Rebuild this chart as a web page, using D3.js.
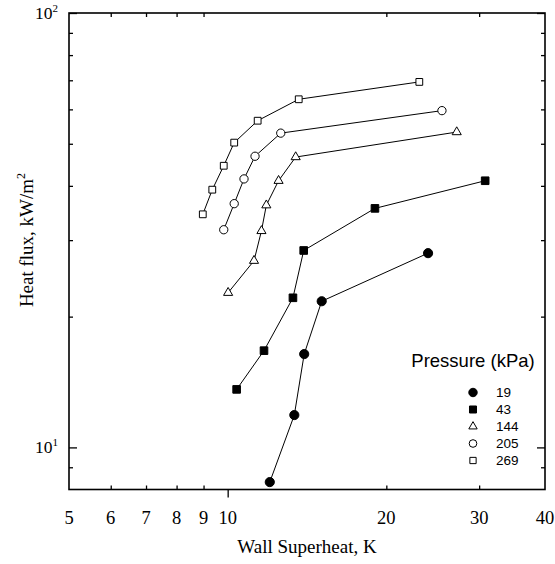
<!DOCTYPE html>
<html>
<head>
<meta charset="utf-8">
<script src="https://cdn.jsdelivr.net/npm/d3@7"></script>
<style>
  body { margin: 0; background: #fff; }
  svg { display: block; }
</style>
</head>
<body>
<svg id="chart" width="555" height="564"></svg>
<script>
// ---------- data ----------
const seriesNames = ["19", "43", "144", "205", "269"];   // pressure, kPa
const x19  = [12.02, 13.38, 13.97, 15.08, 24.0];
const y19  = [8.32, 11.87, 16.4, 21.7, 28.0];
const x43  = [10.40, 11.72, 13.30, 13.94, 19.03, 30.8];
const y43  = [13.6, 16.7, 22.1, 28.4, 35.5, 41.1];
const x144 = [10.02, 11.22, 11.59, 11.84, 12.49, 13.46, 27.2];
const y144 = [22.7, 26.9, 31.5, 36.1, 41.1, 46.6, 53.2];
const x205 = [9.83, 10.29, 10.74, 11.27, 12.61, 25.5];
const y205 = [31.7, 36.4, 41.5, 46.8, 52.9, 59.6];
const x269 = [8.97, 9.35, 9.83, 10.29, 11.40, 13.64, 23.1];
const y269 = [34.4, 39.2, 44.5, 50.3, 56.5, 63.3, 69.4];

const xTickLabels = [5, 6, 7, 8, 9, 10, 20, 30, 40];
const xMinorTicks = [6, 7, 8, 9, 20, 30];
const xMajorTicks = [10];
const yMajorTicks = [10, 100];
const yMinorTicks = [9, 20, 30, 40, 50, 60, 70, 80, 90];

const xTitle = "Wall Superheat, K";
const legendTitle = "Pressure (kPa)";

// ---------- layout ----------
const svg = d3.select("#chart");
const L = 69, R = 545, T = 13, B = 489.5;
const x = d3.scaleLog().domain([5, 40]).range([L, R]);
const y = d3.scaleLog().domain([8, 100]).range([B, T]);

const serif = "'Liberation Serif', 'Times New Roman', serif";
const sans = "'Liberation Sans', Arial, sans-serif";

const series = [
  {name: seriesNames[0], xs: x19,  ys: y19,  sym: d3.symbolCircle,   fill: "#000", size: 66},
  {name: seriesNames[1], xs: x43,  ys: y43,  sym: d3.symbolSquare,   fill: "#000", size: 58},
  {name: seriesNames[2], xs: x144, ys: y144, sym: d3.symbolTriangle, fill: "#fff", size: 36},
  {name: seriesNames[3], xs: x205, ys: y205, sym: d3.symbolCircle,   fill: "#fff", size: 54},
  {name: seriesNames[4], xs: x269, ys: y269, sym: d3.symbolSquare,   fill: "#fff", size: 46}
];

// ---------- axes / ticks ----------
svg.append("g").attr("transform", `translate(0,${B})`)
  .call(d3.axisBottom(x).tickValues(xMinorTicks).tickSize(-4).tickFormat(""))
  .call(g => g.select(".domain").remove());
svg.append("g").attr("transform", `translate(0,${B})`)
  .call(d3.axisBottom(x).tickValues(xMajorTicks).tickSize(8).tickFormat(""))
  .call(g => g.select(".domain").remove());
svg.append("g").attr("transform", `translate(0,${T})`)
  .call(d3.axisTop(x).tickValues(xMinorTicks).tickSize(-4).tickFormat(""))
  .call(g => g.select(".domain").remove());
svg.append("g").attr("transform", `translate(${L},0)`)
  .call(d3.axisLeft(y).tickValues(yMinorTicks).tickSize(-4).tickFormat(""))
  .call(g => g.select(".domain").remove());
svg.append("g").attr("transform", `translate(${L},0)`)
  .call(d3.axisLeft(y).tickValues(yMajorTicks).tickSize(-8).tickFormat(""))
  .call(g => g.select(".domain").remove());
svg.append("g").attr("transform", `translate(${R},0)`)
  .call(d3.axisRight(y).tickValues(yMinorTicks).tickSize(-4).tickFormat(""))
  .call(g => g.select(".domain").remove());
svg.append("g").attr("transform", `translate(${R},0)`)
  .call(d3.axisRight(y).tickValues(yMajorTicks).tickSize(-8).tickFormat(""))
  .call(g => g.select(".domain").remove());

svg.selectAll(".tick line").attr("stroke", "#000").attr("stroke-width", 1.3);

// frame
svg.append("rect").attr("x", L).attr("y", T).attr("width", R - L).attr("height", B - T)
  .attr("fill", "none").attr("stroke", "#000").attr("stroke-width", 1.6);

// x tick labels
svg.append("g").selectAll("text").data(xTickLabels).join("text")
  .attr("x", d => x(d)).attr("y", 524)
  .attr("text-anchor", "middle")
  .attr("font-family", serif).attr("font-size", 18.5)
  .text(d => d);

// y tick labels 10^1, 10^2
const yl = svg.append("g").selectAll("text").data(yMajorTicks).join("text")
  .attr("x", 58).attr("y", d => y(d) + 6)
  .attr("text-anchor", "end")
  .attr("font-family", serif).attr("font-size", 17.5);
yl.append("tspan").text("10");
yl.append("tspan").attr("font-size", 11).attr("dy", -7).text(d => Math.round(Math.log10(d)));

// axis titles
svg.append("text").attr("x", (L + R) / 2).attr("y", 553)
  .attr("text-anchor", "middle").attr("font-family", serif).attr("font-size", 19)
  .text(xTitle);
const yt = svg.append("text")
  .attr("transform", `translate(33,240) rotate(-90)`)
  .attr("text-anchor", "middle").attr("font-family", serif).attr("font-size", 19);
yt.append("tspan").text("Heat flux, kW/m");
yt.append("tspan").attr("font-size", 12).attr("dy", -8).text("2");

// ---------- data lines and markers ----------
const line = d3.line().x(d => x(d[0])).y(d => y(d[1]));
series.forEach(s => {
  const pts = s.xs.map((v, i) => [v, s.ys[i]]);
  svg.append("path").datum(pts).attr("d", line)
    .attr("fill", "none").attr("stroke", "#000").attr("stroke-width", 1);
  svg.append("g").selectAll("path").data(pts).join("path")
    .attr("transform", d => `translate(${x(d[0])},${y(d[1])})`)
    .attr("d", d3.symbol().type(s.sym).size(s.size))
    .attr("fill", s.fill).attr("stroke", "#000").attr("stroke-width", 1);
});

// ---------- legend ----------
svg.append("text").attr("x", 473).attr("y", 367).attr("text-anchor", "middle")
  .attr("font-family", sans).attr("font-size", 18.5).text(legendTitle);
const lg = svg.append("g").selectAll("g").data(series).join("g")
  .attr("transform", (d, i) => `translate(473,${392.5 + i * 17})`);
lg.append("path")
  .attr("d", d => d3.symbol().type(d.sym).size(d.size * 0.85)())
  .attr("fill", d => d.fill).attr("stroke", "#000").attr("stroke-width", 1);
lg.append("text").attr("x", 23).attr("y", 4.5)
  .attr("font-family", sans).attr("font-size", 13.5).text(d => d.name);
</script>
</body>
</html>
